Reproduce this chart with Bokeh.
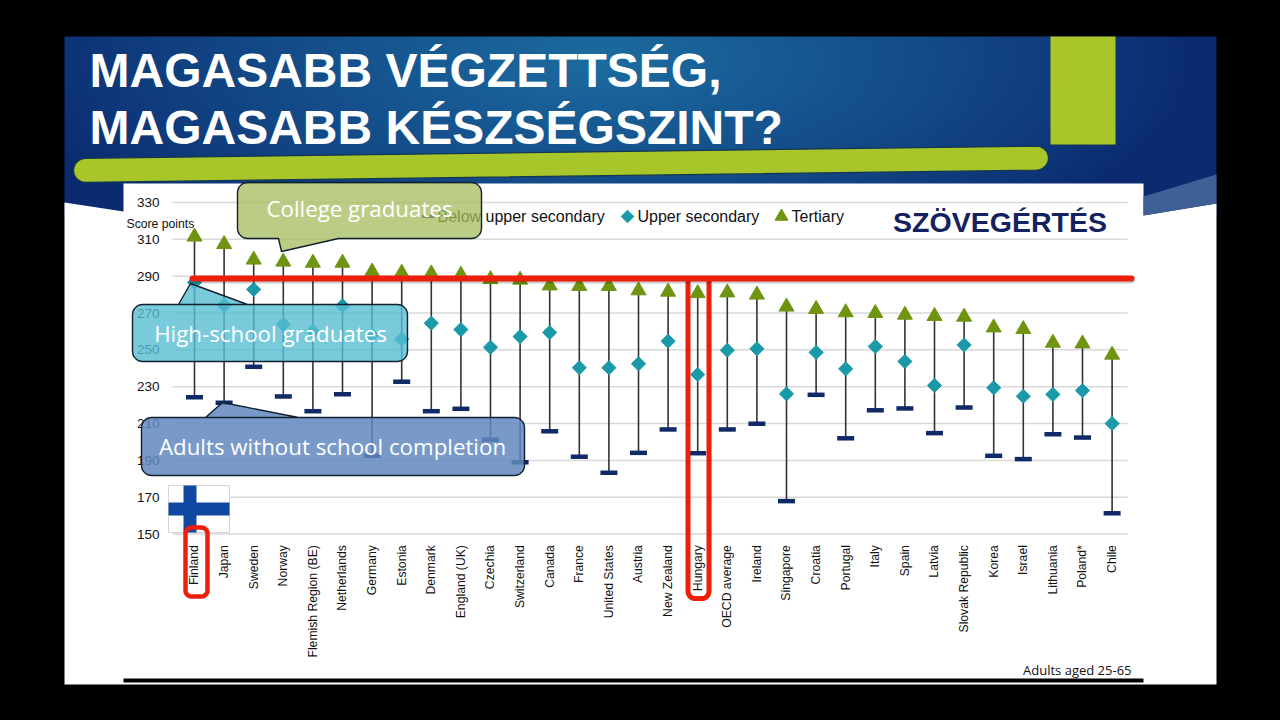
"""Slide: reading skill score ranges by education level, per country."""
import numpy as np
from bokeh.core.properties import value
from bokeh.embed import file_html
from bokeh.io import curdoc
from bokeh.models import CustomJS, FixedTicker, LinearAxis, Range1d
from bokeh.plotting import figure
from bokeh.resources import INLINE

COUNTRIES = [
    "Finland", "Japan", "Sweden", "Norway", "Flemish Region (BE)", "Netherlands",
    "Germany", "Estonia", "Denmark", "England (UK)", "Czechia", "Switzerland",
    "Canada", "France", "United States", "Austria", "New Zealand", "Hungary",
    "OECD average", "Ireland", "Singapore", "Croatia", "Portugal", "Italy",
    "Spain", "Latvia", "Slovak Republic", "Korea", "Israel", "Lithuania",
    "Poland*", "Chile",
]
BELOW_UPPER = [
    224.3, 221.3, 240.8, 224.7, 216.7, 225.9, 192.5, 232.7, 216.7, 218.0, 201.2, 189.0,
    205.8, 192.0, 183.3, 194.1, 206.8, 193.9, 206.8, 209.9, 167.9, 225.6, 202.0, 217.2,
    218.2, 204.8, 218.7, 192.5, 190.7, 204.2, 202.4, 161.3,
]
UPPER_SECONDARY = [
    286.6, 274.2, 282.8, 263.8, 260.0, 273.9, 258.0, 255.8, 264.5, 261.0, 251.4, 257.2,
    259.4, 240.3, 240.3, 242.4, 254.7, 236.6, 249.8, 250.6, 226.1, 248.6, 239.7, 251.8,
    243.7, 230.7, 252.7, 229.4, 224.8, 225.8, 227.9, 210.0,
]
TERTIARY = [
    311.4, 307.3, 298.9, 297.8, 297.2, 297.2, 292.4, 291.8, 291.4, 290.7, 288.3, 288.0,
    284.9, 284.6, 284.6, 282.2, 281.5, 280.7, 281.1, 279.9, 273.4, 272.1, 270.3, 269.9,
    269.0, 268.3, 267.9, 262.1, 261.2, 253.8, 253.4, 247.3,
]
Y_TICKS = [150, 170, 190, 210, 230, 250, 270, 290, 310, 330]
SERIES_NAMES = ["Below upper secondary", "Upper secondary", "Tertiary"]

NAVY = "#0f2a66"
TEAL = "#1a9aa8"
OLIVE = "#6f9410"
RED = "#ee1f0a"
GREEN = "#a8c52a"
LIB = value("Liberation Sans")
SANS = value("Open Sans")


# page pixel -> data space, the frame fills the whole canvas
def dx(px):
    return (np.asarray(px, dtype=float) - 194.0) / 29.6


def dy(py):
    return 150.0 + (533.6 - np.asarray(py, dtype=float)) / 1.8425


def rounded(x0, y0, x1, y1, r, n=6):
    """Outline of a rounded box as page pixels."""
    xs, ys = [], []
    corners = [(x1 - r, y0 + r, -90), (x1 - r, y1 - r, 0), (x0 + r, y1 - r, 90), (x0 + r, y0 + r, 180)]
    for cx, cy, start in corners:
        for a in np.radians(np.linspace(start, start + 90, n)):
            xs.append(cx + r * np.cos(a))
            ys.append(cy + r * np.sin(a))
    return xs, ys


def callout(x0, y0, x1, y1, tail, fill, alpha):
    """Speech bubble: rounded box plus a tail (base_a, apex, base_b) on the top edge."""
    xs, ys = rounded(x0, y0, x1, y1, 10)
    # the outline starts on the top edge at the right, so the tail closes the ring
    xs += [tail[0][0], tail[1][0], tail[2][0]]
    ys += [tail[0][1], tail[1][1], tail[2][1]]
    p.patch(dx(xs), dy(ys), fill_color=fill, fill_alpha=alpha, line_color="#10202e", line_width=1.4)


def callout_below(x0, y0, x1, y1, tail, fill, alpha):
    """Speech bubble with the tail on the bottom edge."""
    xs, ys = rounded(x0, y0, x1, y1, 10)
    # bottom edge is crossed between corner 2 and corner 3
    k = 12
    xs = xs[:k] + [tail[0][0], tail[1][0], tail[2][0]] + xs[k:]
    ys = ys[:k] + [tail[0][1], tail[1][1], tail[2][1]] + ys[k:]
    p.patch(dx(xs), dy(ys), fill_color=fill, fill_alpha=alpha, line_color="#10202e", line_width=1.4)


p = figure(
    width=1280,
    height=720,
    x_range=Range1d(float(dx(0)), float(dx(1280))),
    y_range=Range1d(float(dy(720)), float(dy(0))),
    x_axis_location=None,
    y_axis_location=None,
    output_backend="svg",
    toolbar_location=None,
    min_border=0,
    background_fill_color="#000000",
    border_fill_color="#000000",
    outline_line_color=None,
)
p.grid.visible = False

# slide background: dark navy edges with a lighter blue glow in the middle
gh, gw = 90, 288
gx, gy = np.meshgrid(np.linspace(64, 1216, gw), np.linspace(36, 216, gh))
glow = np.clip(1 - np.hypot((gx - 600) / 600, (gy - 60) / 230), 0, 1) ** 0.9
rgba = np.zeros((gh, gw, 4), dtype=np.uint8)
for i, (lo, hi) in enumerate([(11, 28), (42, 108), (112, 160)]):
    rgba[..., i] = lo + (hi - lo) * glow
rgba[..., 3] = 255
rgba = rgba[::-1]
img = rgba.view(dtype=np.uint32).reshape((gh, gw))
p.image_rgba(image=[img], x=float(dx(64)), y=float(dy(216)), dw=1152 / 29.6, dh=180 / 1.8425, level="image")

p.patch(
    dx([64, 123, 123, 1143, 1143, 1216, 1216, 64]),
    dy([202, 211, 183, 183, 215, 203, 684, 684]),
    fill_color="#ffffff", line_color=None, level="image",
)
p.patch(dx([1143, 1216, 1216, 1143]), dy([196, 174, 203, 215]), fill_color="#3f6097", line_color=None, level="image")
p.quad(left=dx([1052]), right=dx([1116]), top=dy([38]), bottom=dy([145]), fill_color="#123a55", line_color=None)
p.quad(left=dx([1050]), right=dx([1115]), top=dy([36]), bottom=dy([144]), fill_color=GREEN, line_color=None)

# slanted pill under the title
pill_x, pill_y = rounded(0, 0, 975, 24, 12)
pill_x = np.array(pill_x) + 73
pill_y = np.array(pill_y) + 158 - (pill_x - 73) * 12.5 / 975
p.patch(dx(pill_x), dy(pill_y), fill_color=GREEN, line_color="#12384f", line_width=1.2)

p.text(
    dx([89, 89]), dy([70, 127]), text=["MAGASABB VÉGZETTSÉG,", "MAGASABB KÉSZSÉGSZINT?"],
    text_font=LIB, text_font_style="bold", text_font_size="48px",
    text_color="#ffffff", text_baseline="middle",
)

# gridlines stop at the chart edges, hence segments and not a Grid
p.segment(dx(172), Y_TICKS, dx(1127), Y_TICKS, line_color="#d9d9d9", line_width=1.5, level="underlay")

yaxis = LinearAxis(
    fixed_location=float(dx(172)),
    ticker=FixedTicker(ticks=Y_TICKS),
    axis_line_color=None,
    major_tick_line_color=None,
    minor_tick_line_color=None,
    major_label_text_font="Liberation Sans",
    major_label_text_font_size="13.5px",
    major_label_text_color="#111111",
    major_label_standoff=7,
    level="underlay",
)
p.add_layout(yaxis, "left")

idx = list(range(len(COUNTRIES)))
xaxis = LinearAxis(
    fixed_location=150,
    ticker=FixedTicker(ticks=idx),
    major_label_overrides={i: c for i, c in zip(idx, COUNTRIES)},
    major_label_orientation=np.pi / 2,
    axis_line_color=None,
    major_tick_line_color=None,
    minor_tick_line_color=None,
    major_label_text_font="Liberation Sans",
    major_label_text_font_size="12.2px",
    major_label_text_color="#111111",
    major_label_standoff=5,
    level="underlay",
)
p.add_layout(xaxis, "below")

p.segment(idx, BELOW_UPPER, idx, TERTIARY, line_color="#333333", line_width=1.6)
p.scatter(idx, BELOW_UPPER, marker="dash", size=17, line_color=NAVY, line_width=4.5)
p.scatter(idx, UPPER_SECONDARY, marker="square", size=10, angle=np.pi / 4, fill_color=TEAL, line_color=TEAL)
p.scatter(idx, TERTIARY, marker="triangle", size=15, fill_color=OLIVE, line_color=OLIVE)

# hand-placed legend, the bubble sits on top of it in the slide
p.scatter(dx([428]), dy([216]), marker="dash", size=13, line_color=NAVY, line_width=3)
p.scatter(dx([627]), dy([216]), marker="square", size=9, angle=np.pi / 4, fill_color=TEAL, line_color=TEAL)
p.scatter(dx([781]), dy([216]), marker="triangle", size=13, fill_color=OLIVE, line_color=OLIVE)
p.text(
    dx([437, 637, 791]), dy([216, 216, 216]), text=SERIES_NAMES,
    text_font=LIB, text_font_size="16px", text_color="#111111", text_baseline="middle",
)
p.text(
    dx([126]), dy([223]), text=["Score points"],
    text_font=LIB, text_font_size="12.2px", text_color="#111111", text_baseline="middle",
)
p.text(
    dx([999.5]), dy([221]), text=["SZÖVEGÉRTÉS"], text_align="center",
    text_font=LIB, text_font_style="bold", text_font_size="28.5px",
    text_color="#14215f", text_baseline="middle",
)
p.text(
    dx([1131]), dy([669]), text=["Adults aged 25-65"], text_align="right",
    text_font=SANS, text_font_size="13px", text_color="#111111", text_baseline="middle",
)
p.quad(left=dx([123]), right=dx([1143]), top=dy([678]), bottom=dy([682]), fill_color="#000000", line_color=None)

# Finland flag
p.quad(left=dx([168]), right=dx([229]), top=dy([485]), bottom=dy([532]), fill_color="#ffffff", line_color="#d5d5d5")
p.quad(left=dx([168]), right=dx([229]), top=dy([502]), bottom=dy([515]), fill_color="#0f47a1", line_color=None)
p.quad(left=dx([183]), right=dx([196]), top=dy([485]), bottom=dy([532]), fill_color="#0f47a1", line_color=None)

# bubbles over the chart
callout_below(237, 182, 481, 238, [(338, 238), (281, 251), (278, 238)], "#a4bc5c", 0.75)
callout(132, 304, 407, 361, [(247, 304), (190, 283), (178, 304)], "#58bdd2", 0.8)
callout(141, 417, 524, 475, [(298, 417), (222, 402), (205, 417)], "#6288c0", 0.85)
p.text(
    dx([359, 270, 332]), dy([208, 333, 446]),
    text=["College graduates", "High-school graduates", "Adults without school completion"],
    text_align="center", text_font=SANS, text_font_size="22.3px", text_color="#ffffff", text_baseline="middle",
)

# red highlights
bx, by = rounded(687.5, 250, 708.5, 598, 7)
bx = [708.5] + bx[6:18] + [687.5]
by = [278] + by[6:18] + [278]
p.line(dx(bx), dy(by), line_color=RED, line_width=5)
fx, fy = rounded(185, 527, 207, 596, 6)
p.patch(dx(fx), dy(fy), fill_color=None, line_color=RED, line_width=4.5)
p.line(dx([192, 1131]), dy([280, 280]), line_color="#000000", line_alpha=0.2, line_width=6, line_cap="round")
p.line(dx([192, 1131]), dy([278, 278]), line_color=RED, line_width=6, line_cap="round")

# black page behind the canvas
curdoc().add_root(p)
curdoc().js_on_event("document_ready", CustomJS(code="document.body.style.background = '#000000'"))

open("out.html", "w").write(file_html(p, INLINE))
